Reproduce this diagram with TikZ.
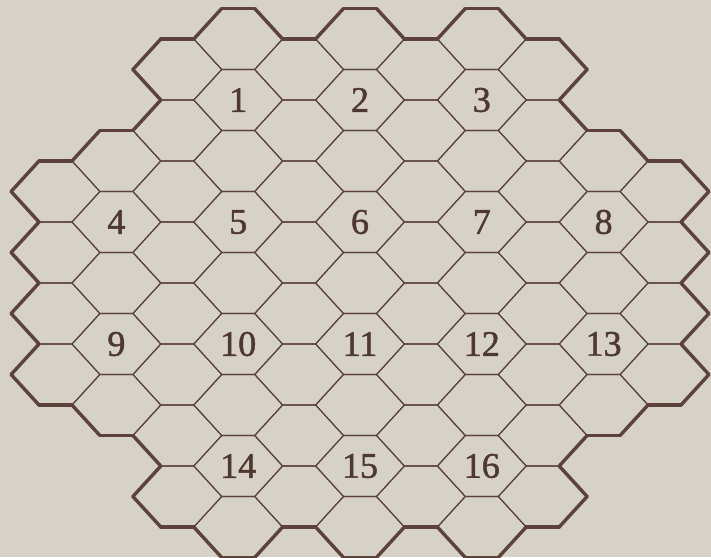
\documentclass[tikz,border=0pt]{standalone}
\usepackage{fontspec}
\setmainfont{Liberation Serif}
\newfontfamily\numfont[FakeBold=1.3]{Liberation Serif}
\definecolor{bg}{RGB}{214,210,200}
\definecolor{ink}{RGB}{92,66,58}
\definecolor{numink}{RGB}{78,56,48}
\def\kminlist{{2,2,0,0,0,0,0,0,0,2,2}}
\def\kmaxlist{{5,6,7,8,7,8,7,8,7,6,5}}
\newif\ifhexhere
\newcommand\testhex[2]{%
  \hexherefalse
  \ifnum#1>-1\relax
    \ifnum#1<11\relax
      \pgfmathtruncatemacro\tmpmin{\kminlist[#1]}%
      \pgfmathtruncatemacro\tmpmax{\kmaxlist[#1]}%
      \ifnum#2<\tmpmin\relax\else
        \ifnum#2>\tmpmax\relax\else\hexheretrue\fi
      \fi
    \fi
  \fi}
\begin{document}
\begin{tikzpicture}[x=1pt,y=-1pt,
  gridline/.style={draw=ink,line width=1.1pt,line join=miter},
  border/.style={draw=ink,line width=3.4pt,line cap=round,line join=round},
  num/.style={font=\numfont\fontsize{36}{36}\selectfont,text=numink,inner sep=0pt}]
\useasboundingbox (0,0) rectangle (711,557);
\fill[bg] (0,0) rectangle (711,557);
\def\hexR{44.4}\def\hexa{16.5}\def\hexh{30.5}
\foreach \c in {0,...,10}{
  \pgfmathtruncatemacro\kmin{\kminlist[\c]}
  \pgfmathtruncatemacro\kmax{\kmaxlist[\c]}
  \pgfmathtruncatemacro\s{mod(\c+1,2)}
  \pgfmathtruncatemacro\cm{\c-1}
  \pgfmathtruncatemacro\cp{\c+1}
  \foreach \k in {\kmin,...,\kmax}{
    \pgfmathsetmacro\cx{55.5+60.9*\c}
    \pgfmathsetmacro\cy{39+30.5*\s+61*\k}
    \coordinate (L) at (\cx-\hexR,\cy);
    \coordinate (TL) at (\cx-\hexa,\cy-\hexh);
    \coordinate (TR) at (\cx+\hexa,\cy-\hexh);
    \coordinate (R) at (\cx+\hexR,\cy);
    \coordinate (BR) at (\cx+\hexa,\cy+\hexh);
    \coordinate (BL) at (\cx-\hexa,\cy+\hexh);
    \path[gridline] (L)--(TL)--(TR)--(R)--(BR)--(BL)--cycle;
    \pgfmathtruncatemacro\kt{\k-1}
    \pgfmathtruncatemacro\kb{\k+1}
    \pgfmathtruncatemacro\ku{\k-1+\s}
    \pgfmathtruncatemacro\kd{\k+\s}
    \testhex{\c}{\kt}\ifhexhere\else\path[border] (TL)--(TR);\fi
    \testhex{\c}{\kb}\ifhexhere\else\path[border] (BL)--(BR);\fi
    \testhex{\cm}{\ku}\ifhexhere\else\path[border] (L)--(TL);\fi
    \testhex{\cm}{\kd}\ifhexhere\else\path[border] (L)--(BL);\fi
    \testhex{\cp}{\ku}\ifhexhere\else\path[border] (R)--(TR);\fi
    \testhex{\cp}{\kd}\ifhexhere\else\path[border] (R)--(BR);\fi
  }
}
\node[num] (n1) at (238.2,100) {1};
\node[num] (n2) at (360,100) {2};
\node[num] (n3) at (481.8,100) {3};
\node[num] (n4) at (116.4,222) {4};
\node[num] (n5) at (238.2,222) {5};
\node[num] (n6) at (360,222) {6};
\node[num] (n7) at (481.8,222) {7};
\node[num] (n8) at (603.6,222) {8};
\node[num] (n9) at (116.4,344) {9};
\node[num] (n10) at (238.2,344) {10};
\node[num] (n11) at (360,344) {11};
\node[num] (n12) at (481.8,344) {12};
\node[num] (n13) at (603.6,344) {13};
\node[num] (n14) at (238.2,466) {14};
\node[num] (n15) at (360,466) {15};
\node[num] (n16) at (481.8,466) {16};
\end{tikzpicture}
\end{document}
